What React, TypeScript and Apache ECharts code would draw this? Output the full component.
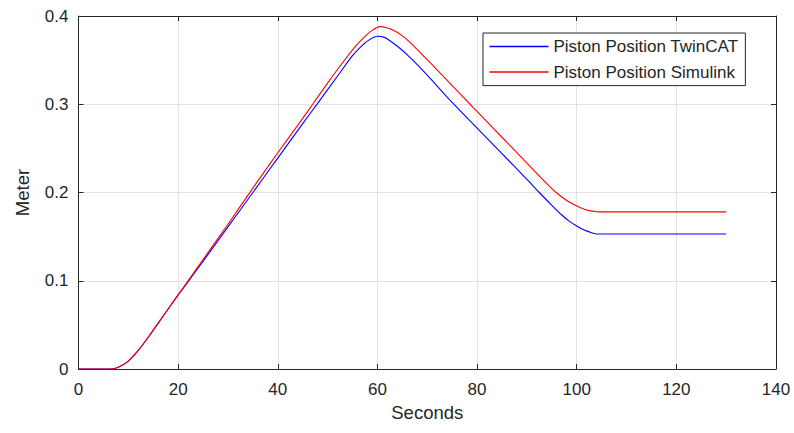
import React, { useEffect, useRef } from "react";
import * as echarts from "echarts";

const xTicks = [0, 20, 40, 60, 80, 100, 120, 140];
const yTicks = [0, 0.1, 0.2, 0.3, 0.4];

const twinTime = [0, 6.5, 8, 10, 12, 14, 16, 18, 20, 22, 25, 30, 35, 40, 45, 48, 52, 55, 57, 58.5, 60, 61.5, 63, 64.5, 66, 68, 70, 75, 80, 85, 90, 92.5, 95, 97, 98.5, 100, 101.5, 103, 104, 130];
const twinPos = [0, 0, 0.002, 0.009, 0.021, 0.036, 0.052, 0.068, 0.084, 0.099, 0.122, 0.161, 0.2, 0.239, 0.278, 0.301, 0.332, 0.355, 0.367, 0.3735, 0.377, 0.3755, 0.37, 0.3635, 0.356, 0.345, 0.333, 0.302, 0.273, 0.244, 0.215, 0.2, 0.1855, 0.1745, 0.1675, 0.162, 0.1575, 0.1545, 0.153, 0.153];

const simTime = [0, 6.5, 8, 10, 12, 14, 16, 18, 20, 22, 25, 30, 35, 40, 45, 47, 50, 53, 55.5, 57.5, 59, 60.5, 62, 63.5, 65, 66.5, 70, 75, 78.6, 80, 85, 90, 93, 95, 96.5, 98, 99.5, 101, 102.5, 104, 105, 130];
const simPos = [0, 0, 0.002, 0.009, 0.021, 0.036, 0.052, 0.068, 0.084, 0.1, 0.124, 0.164, 0.205, 0.245, 0.284, 0.3, 0.324, 0.347, 0.365, 0.377, 0.384, 0.388, 0.3865, 0.383, 0.3775, 0.3705, 0.3505, 0.3211, 0.3, 0.2918, 0.2626, 0.2333, 0.2158, 0.2045, 0.1972, 0.191, 0.186, 0.1822, 0.1795, 0.1782, 0.178, 0.178];

const seriesNames = ["Piston Position TwinCAT", "Piston Position Simulink"];

const FONT = "'Liberation Sans', Arial, Helvetica, sans-serif";
const INK = "#262626";
const GRID = "#e3e3e3";

export default function App() {
  const ref = useRef<HTMLDivElement>(null);
  useEffect(() => {
    if (!ref.current) return;
    const chart = echarts.init(ref.current, undefined, { renderer: "svg" });
    const twin = twinTime.map((t, i) => [t, twinPos[i]]);
    const sim = simTime.map((t, i) => [t, simPos[i]]);
    const xMin = xTicks[0];
    const xMax = xTicks[xTicks.length - 1];
    const xInt = xTicks[1] - xTicks[0];
    const yMin = yTicks[0];
    const yMax = yTicks[yTicks.length - 1];
    const yInt = 0.1;
    chart.setOption({
      animation: false,
      backgroundColor: "#ffffff",
      textStyle: { fontFamily: FONT },
      grid: { left: 78.5, right: 18, top: 16, bottom: 64, containLabel: false },
      legend: {
        orient: "vertical",
        left: 483,
        top: 33,
        padding: [3.5, 7, 3.5, 6.5],
        itemWidth: 59,
        itemHeight: 1.5,
        itemGap: 5.6,
        icon: "rect",
        backgroundColor: "#ffffff",
        borderColor: INK,
        borderWidth: 1,
        textStyle: { fontSize: 17, color: INK, fontFamily: FONT, lineHeight: 20 },
        data: seriesNames,
      },
      xAxis: [
        {
          type: "value",
          min: xMin,
          max: xMax,
          interval: xInt,
          name: "Seconds",
          nameLocation: "middle",
          nameGap: 33,
          nameTextStyle: { fontSize: 18.5, color: INK, fontFamily: FONT },
          axisLine: { show: true, lineStyle: { color: INK, width: 1 } },
          axisTick: { show: true, inside: true, length: 5, lineStyle: { color: INK } },
          axisLabel: { fontSize: 17, color: INK, margin: 12, fontFamily: FONT },
          splitLine: { show: true, lineStyle: { color: GRID, width: 1 } },
        },
        {
          type: "value",
          position: "top",
          min: xMin,
          max: xMax,
          interval: xInt,
          axisLine: { show: true, onZero: false, lineStyle: { color: INK, width: 1 } },
          axisTick: { show: true, inside: true, length: 5, lineStyle: { color: INK } },
          axisLabel: { show: false },
          splitLine: { show: false },
        },
      ],
      yAxis: [
        {
          type: "value",
          min: yMin,
          max: yMax,
          interval: yInt,
          name: "Meter",
          nameLocation: "middle",
          nameGap: 47,
          nameTextStyle: { fontSize: 18.5, color: INK, fontFamily: FONT },
          axisLine: { show: true, lineStyle: { color: INK, width: 1 } },
          axisTick: { show: true, inside: true, length: 5, lineStyle: { color: INK } },
          axisLabel: { fontSize: 17, color: INK, margin: 10, fontFamily: FONT },
          splitLine: { show: true, lineStyle: { color: GRID, width: 1 } },
        },
        {
          type: "value",
          position: "right",
          min: yMin,
          max: yMax,
          interval: yInt,
          axisLine: { show: true, onZero: false, lineStyle: { color: INK, width: 1 } },
          axisTick: { show: true, inside: true, length: 5, lineStyle: { color: INK } },
          axisLabel: { show: false },
          splitLine: { show: false },
        },
      ],
      series: [
        {
          name: seriesNames[0],
          type: "line",
          data: twin,
          showSymbol: false,
          symbol: "none",
          smooth: 0.25,
          lineStyle: { color: "#0000ff", width: 1.1 },
          itemStyle: { color: "#0000ff" },
          z: 3,
        },
        {
          name: seriesNames[1],
          type: "line",
          data: sim,
          showSymbol: false,
          symbol: "none",
          smooth: 0.25,
          lineStyle: { color: "#ff0000", width: 1.1 },
          itemStyle: { color: "#ff0000" },
          z: 4,
        },
      ],
    });
    return () => chart.dispose();
  }, []);
  return (
    <div
      ref={ref}
      style={{ position: "fixed", left: 0, top: 0, width: 794, height: 433, background: "#fff" }}
    />
  );
}
